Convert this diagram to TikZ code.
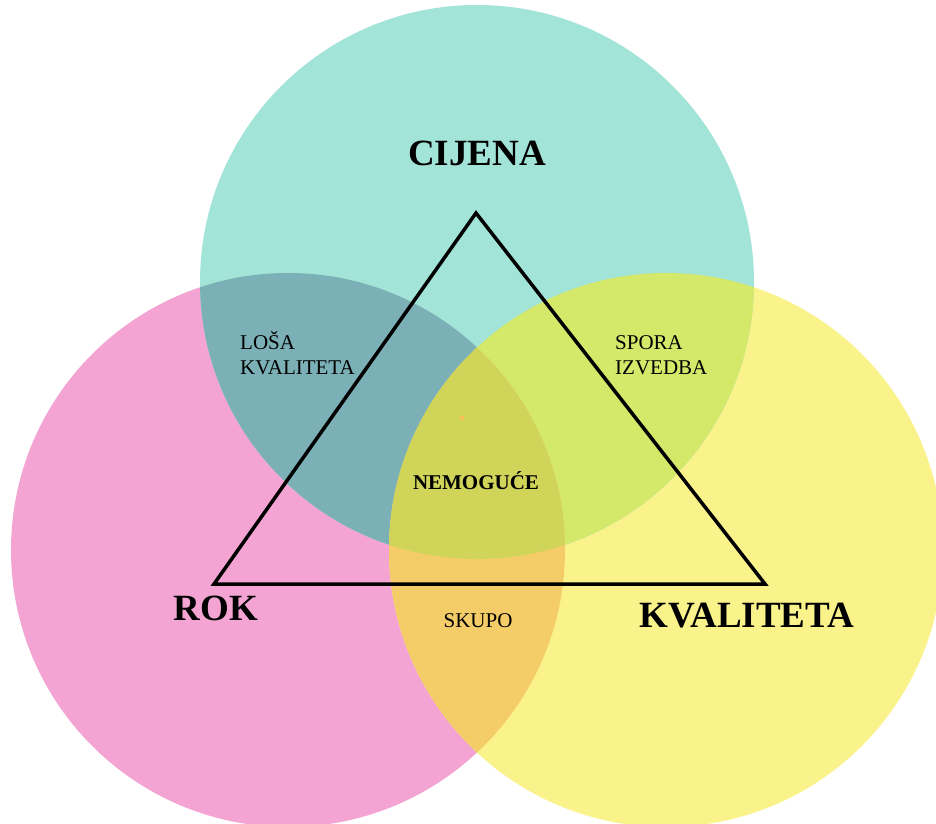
\documentclass[tikz,border=0pt]{standalone}
\usepackage{fontspec}
\setmainfont{Liberation Serif}
\usetikzlibrary{positioning}
\usetikzlibrary{calc}
\definecolor{myteal}{RGB}{163,228,216}
\definecolor{mypink}{RGB}{244,164,211}
\definecolor{myyellow}{RGB}{250,242,138}
\definecolor{mytealpink}{RGB}{123,176,182}
\definecolor{mytealyellow}{RGB}{212,232,106}
\definecolor{mypinkyellow}{RGB}{244,204,104}
\definecolor{mycenter}{RGB}{208,213,90}
\newcommand\cijenacirc{(477,282) circle (277pt)}
\newcommand\rokcirc{(288,550) circle (277pt)}
\newcommand\kvalcirc{(666,550) circle (277pt)}

\begin{document}
\begin{tikzpicture}[
x=1pt, y=-1pt,
bigtext/.style={
  font=\fontsize{37}{37}\selectfont\bfseries,
  inner sep=0pt,
  anchor=base},
sidetext/.style={
  font=\fontsize{21}{25}\selectfont,
  inner sep=0pt,
  align=left,
  anchor=base west}
]
\useasboundingbox (0,0) rectangle (936,823);
\begin{scope}
\clip (0,0) rectangle (936,823);
% the three circles
\fill[mypink] \rokcirc;
\fill[myyellow] \kvalcirc;
\fill[myteal] \cijenacirc;
% overlaps
\begin{scope}
\clip \cijenacirc;
\fill[mytealpink] \rokcirc;
\fill[mytealyellow] \kvalcirc;
\end{scope}
\begin{scope}
\clip \rokcirc;
\fill[mypinkyellow] \kvalcirc;
\clip \cijenacirc;
\fill[mycenter] \kvalcirc;
\end{scope}
\end{scope}
\fill[mypinkyellow!85!orange] (462,418) circle (2.5pt);
% triangle
\coordinate (top) at (476,213);
\coordinate (left) at (214,584);
\coordinate (right) at (765,584);
\draw[line width=3.5pt] (top) -- (left) -- (right) -- cycle;
% texts
\node[bigtext] (cijena) at (477,165) {CIJENA};
\node[bigtext] (rok) at (216,620) {ROK};
\node[bigtext] (kvaliteta) at (747,627) {KVALITETA};
\node[sidetext] (losa) at (240,374) {LOŠA\\KVALITETA};
\node[sidetext] (spora) at (615,374) {SPORA\\IZVEDBA};
\node[sidetext, font=\fontsize{21}{21}\selectfont\bfseries, anchor=base] (nemoguce) at (476,489) {NEMOGUĆE};
\node[sidetext, anchor=base] (skupo) at (478,627) {SKUPO};
\end{tikzpicture}
\end{document}
